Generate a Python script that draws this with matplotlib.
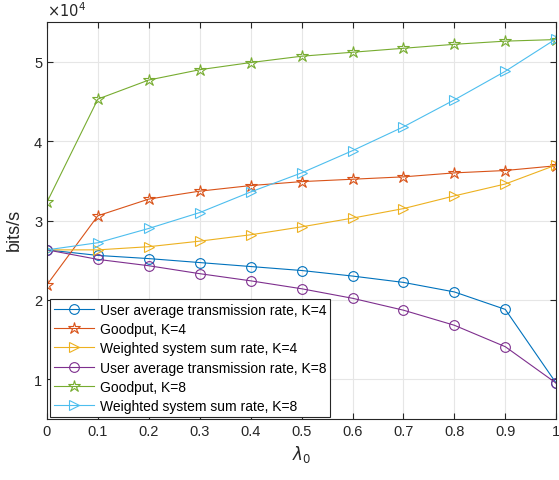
import numpy as np
import matplotlib
matplotlib.use('Agg')
import matplotlib.pyplot as plt

# lambda_0 values
lam = [0, 0.1, 0.2, 0.3, 0.4, 0.5, 0.6, 0.7, 0.8, 0.9, 1.0]

# series values, in units of 1e4 bits/s
user_avg_k4 = [2.63, 2.56, 2.52, 2.47, 2.42, 2.37, 2.30, 2.22, 2.10, 1.88, 0.95]
goodput_k4 = [2.19, 3.06, 3.27, 3.37, 3.44, 3.49, 3.52, 3.55, 3.60, 3.63, 3.69]
weighted_k4 = [2.63, 2.63, 2.67, 2.74, 2.82, 2.92, 3.03, 3.15, 3.31, 3.46, 3.70]
user_avg_k8 = [2.63, 2.51, 2.43, 2.33, 2.24, 2.14, 2.02, 1.87, 1.68, 1.41, 0.95]
goodput_k8 = [3.23, 4.53, 4.77, 4.90, 4.99, 5.07, 5.12, 5.17, 5.22, 5.26, 5.28]
weighted_k8 = [2.63, 2.72, 2.90, 3.10, 3.36, 3.60, 3.88, 4.18, 4.52, 4.88, 5.29]

labels = ['User average transmission rate, K=4', 'Goodput, K=4',
          'Weighted system sum rate, K=4', 'User average transmission rate, K=8',
          'Goodput, K=8', 'Weighted system sum rate, K=8']

series = [user_avg_k4, goodput_k4, weighted_k4, user_avg_k8, goodput_k8, weighted_k8]
colors = ['#0072BD', '#D95319', '#EDB120', '#7E2F8E', '#77AC30', '#4DBEEE']
markers = ['o', '*', '>', 'o', '*', '>']
msizes = [7, 9, 7, 7, 9, 7]

plt.rcParams['font.family'] = ['Liberation Sans', 'DejaVu Sans']

fig = plt.figure(figsize=(5.59, 4.81), dpi=100)
ax = fig.add_axes([0.084, 0.127, 0.911, 0.825])

for vals, c, m, ms, lab in zip(series, colors, markers, msizes, labels):
    y = np.array(vals) * 1e4
    ax.plot(lam, y, color=c, marker=m, markersize=ms, markerfacecolor='none',
            markeredgewidth=0.8, linewidth=0.8, label=lab)

ax.set_xlim(0, 1)
ax.set_ylim(0.5e4, 5.5e4)
ax.set_xticks(lam)
ax.set_xticklabels(['0', '0.1', '0.2', '0.3', '0.4', '0.5', '0.6', '0.7', '0.8', '0.9', '1'])
ax.set_yticks([1e4, 2e4, 3e4, 4e4, 5e4])
ax.set_yticklabels(['1', '2', '3', '4', '5'])
ax.text(0.0, 1.008, r'$\times 10^4$', transform=ax.transAxes, fontsize=10.5,
        color='#262626', ha='left', va='bottom')

ax.grid(True, color='#e6e6e6', linewidth=0.8)
ax.set_axisbelow(True)
ax.tick_params(direction='in', top=True, right=True, labelsize=10.5,
               colors='#262626', length=4)
for s in ax.spines.values():
    s.set_color('#262626')
    s.set_linewidth(0.8)

ax.set_xlabel(r'$\lambda_0$', fontsize=12, color='#262626')
ax.set_ylabel('bits/s', fontsize=13, color='#262626')
ax.yaxis.set_label_coords(-0.047, 0.479)

leg = ax.legend(loc='lower left', bbox_to_anchor=(0.005, 0.004), fontsize=10,
                fancybox=False, framealpha=1, edgecolor='#262626',
                handlelength=2.9, borderpad=0.3, labelspacing=0.38, handletextpad=0.4,
                borderaxespad=0)
leg.get_frame().set_linewidth(0.8)

fig.savefig('out.png', dpi=100)
